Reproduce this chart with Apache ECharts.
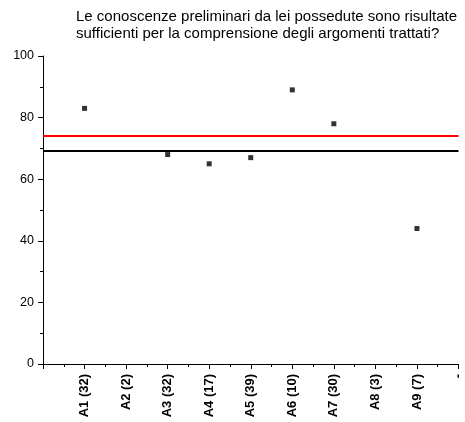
<!DOCTYPE html>
<html>
<head>
<meta charset="utf-8">
<script src="https://cdn.jsdelivr.net/npm/echarts@6/dist/echarts.min.js"></script>
<style>
  html, body { margin: 0; padding: 0; background: #fff; }
  #chart { width: 465px; height: 422px; }
</style>
</head>
<body>
<div id="chart"></div>
<script>
var categories = ['A1 (32)', 'A2 (2)', 'A3 (32)', 'A4 (17)', 'A5 (39)', 'A6 (10)', 'A7 (30)', 'A8 (3)', 'A9 (7)', '-'];
var values = [83, null, 68, 65, 67, 89, 78, null, 44, null];
var redLine = 74.2;   // linea rossa
var blackLine = 69.3; // linea nera

var points = [];
for (var i = 0; i < categories.length; i++) {
    if (values[i] !== null) {
        points.push([i + 1, values[i]]);
    }
}

var myChart = echarts.init(document.getElementById('chart'));
var option = {
    animation: false,
    title: {
        text: 'Le conoscenze preliminari da lei possedute sono risultate\nsufficienti per la comprensione degli argomenti trattati?',
        left: 71,
        top: 3,
        textStyle: {
            fontFamily: 'Liberation Sans',
            fontSize: 15,
            fontWeight: 'normal',
            color: '#000',
            lineHeight: 17
        }
    },
    grid: { left: 43, right: 6, top: 56, bottom: 58 },
    xAxis: {
        type: 'value',
        min: 0,
        max: 10,
        interval: 1,
        splitLine: { show: false },
        axisLine: { lineStyle: { color: '#000', width: 1 } },
        axisTick: { length: 5, lineStyle: { color: '#000' } },
        minorTick: { show: true, splitNumber: 2, length: 3, lineStyle: { color: '#000' } },
        axisLabel: {
            rotate: 90,
            fontFamily: 'Liberation Sans',
            fontSize: 13,
            fontWeight: 'bold',
            color: '#000',
            margin: 10,
            showMinLabel: true,
            showMaxLabel: true,
            formatter: function (v) {
                return v >= 1 ? categories[v - 1] : '';
            }
        }
    },
    yAxis: {
        type: 'value',
        min: 0,
        max: 100,
        interval: 20,
        splitLine: { show: false },
        axisLine: { show: true, lineStyle: { color: '#000', width: 1 } },
        axisTick: { show: true, length: 5, lineStyle: { color: '#000' } },
        minorTick: { show: true, splitNumber: 2, length: 3, lineStyle: { color: '#000' } },
        axisLabel: {
            fontFamily: 'Liberation Sans',
            fontSize: 12.5,
            color: '#000',
            margin: 9
        }
    },
    series: [
        {
            type: 'scatter',
            symbol: 'rect',
            symbolSize: 5,
            itemStyle: { color: '#000' },
            data: points,
            markLine: {
                silent: true,
                symbol: 'none',
                label: { show: false },
                data: [
                    { yAxis: redLine, lineStyle: { color: '#ff0000', width: 2, type: 'solid' } },
                    { yAxis: blackLine, lineStyle: { color: '#000', width: 2, type: 'solid' } }
                ]
            }
        }
    ]
};
myChart.setOption(option);
</script>
</body>
</html>
